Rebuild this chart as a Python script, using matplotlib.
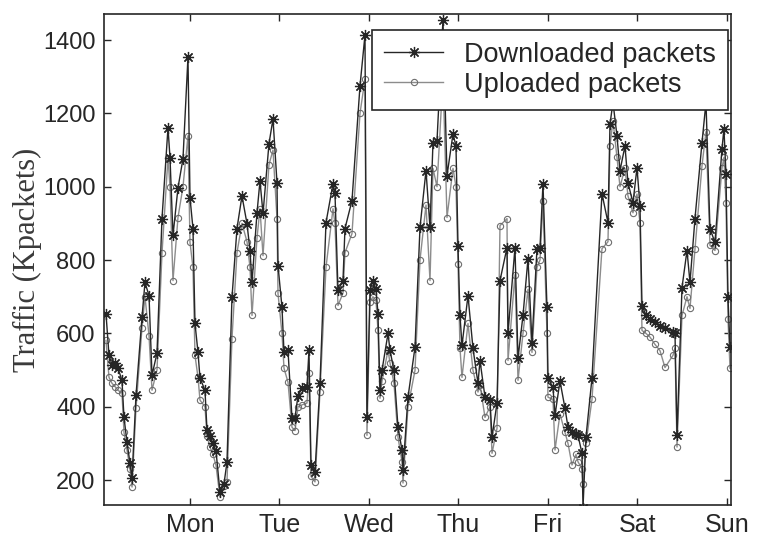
# Weekly packet traffic: downloaded vs uploaded packets (hourly samples)
import matplotlib
matplotlib.use('Agg')
import matplotlib.pyplot as plt

# time in hours from Sunday 00:00
hours = [1.47, 2.28, 3.08, 3.89, 4.69, 5.76, 6.30, 7.11, 7.91, 8.45,
         9.52, 11.13, 11.93, 13.01, 13.81, 15.15, 16.49, 18.10, 18.64, 19.44,
         20.78, 22.12, 23.46, 24.00, 24.80, 25.34, 26.15, 26.68, 28.02, 28.56,
         29.36, 30.17, 30.97, 32.04, 33.12, 33.92, 35.26, 36.60, 37.94, 39.29,
         40.09, 40.63, 41.97, 42.77, 43.58, 45.18, 46.26, 47.33, 47.60, 48.67,
         49.21, 50.28, 51.35, 52.16, 52.96, 54.03, 55.37, 55.91, 56.45, 57.52,
         58.86, 60.47, 62.35, 62.88, 63.69, 65.03, 65.56, 67.44, 69.59, 70.93,
         71.46, 72.27, 73.07, 73.88, 74.41, 74.95, 75.49, 77.10, 77.63, 78.70,
         79.78, 80.85, 81.12, 82.46, 84.34, 85.68, 87.29, 88.36, 89.16, 90.24,
         91.84, 92.92, 94.53, 95.33, 95.87, 96.40, 96.94, 98.55, 99.89, 101.23,
         101.77, 103.11, 104.45, 104.99, 106.33, 107.13, 109.01, 109.28, 111.15, 111.96,
         113.30, 114.64, 115.71, 117.05, 117.86, 118.66, 119.73, 120.00, 121.34, 121.88,
         123.22, 124.56, 125.37, 126.44, 127.51, 128.05, 129.12, 129.39, 130.19, 131.80,
         134.48, 136.09, 136.63, 137.43, 138.50, 139.31, 140.65, 141.45, 142.79, 143.87,
         144.67, 145.21, 146.28, 147.35, 148.69, 150.03, 151.38, 153.52, 154.06, 154.60,
         155.94, 157.28, 158.08, 159.42, 161.30, 162.37, 163.44, 164.78, 166.66, 167.19,
         167.73, 168.27, 168.81]

downloaded = [654, 540, 515, 520, 505, 472, 371, 303, 246, 205,
              431, 644, 739, 703, 486, 546, 913, 1161, 1079, 867,
              997, 1076, 1354, 970, 886, 627, 548, 478, 445, 336,
              320, 300, 280, 167, 190, 249, 698, 886, 975, 899,
              826, 739, 929, 1016, 927, 1117, 1185, 1011, 785, 671,
              548, 554, 369, 370, 430, 450, 455, 554, 241, 222,
              464, 902, 1008, 983, 717, 744, 886, 962, 1275, 1414,
              371, 717, 744, 720, 654, 445, 499, 600, 554, 499,
              344, 282, 227, 426, 562, 889, 1044, 889, 1120, 1125,
              1455, 1030, 1144, 1111, 839, 649, 567, 703, 559, 464,
              526, 426, 418, 317, 410, 744, 834, 600, 834, 532,
              649, 804, 575, 831, 834, 1008, 671, 478, 453, 377,
              470, 396, 344, 330, 325, 322, 273, 124, 317, 478,
              981, 902, 1171, 1230, 1139, 1044, 1111, 1011, 956, 1052,
              948, 676, 650, 640, 630, 620, 616, 603, 600, 322,
              725, 826, 739, 913, 1120, 1230, 886, 848, 1103, 1158,
              1035, 698, 562]

uploaded = [581, 480, 464, 455, 445, 437, 330, 282, 230, 181,
            396, 616, 700, 594, 445, 500, 818, 1079, 1000, 744,
            916, 1000, 1139, 848, 780, 540, 480, 418, 400, 320,
            290, 270, 240, 154, 185, 195, 586, 820, 900, 850,
            780, 649, 860, 940, 812, 1060, 1100, 913, 709, 600,
            505, 467, 344, 335, 400, 405, 410, 491, 210, 195,
            440, 780, 940, 900, 676, 710, 820, 872, 1200, 1294,
            322, 685, 700, 690, 608, 423, 470, 554, 520, 464,
            317, 250, 192, 400, 499, 800, 950, 744, 1050, 1000,
            1300, 916, 1050, 1000, 790, 560, 480, 627, 499, 440,
            460, 371, 400, 273, 341, 894, 913, 526, 760, 472,
            600, 720, 548, 780, 800, 960, 600, 426, 420, 282,
            380, 330, 300, 241, 270, 250, 230, 190, 300, 420,
            831, 850, 1111, 1180, 1080, 1000, 1050, 975, 929, 980,
            900, 608, 600, 590, 570, 553, 507, 540, 560, 290,
            649, 700, 668, 830, 1057, 1150, 840, 826, 1050, 1080,
            956, 640, 505]

day_ticks = [24, 48, 72, 96, 120, 144, 168]
day_labels = ['Mon', 'Tue', 'Wed', 'Thu', 'Fri', 'Sat', 'Sun']
traffic_ticks = [200, 400, 600, 800, 1000, 1200, 1400]

ink = '#262626'

fig = plt.figure(figsize=(7.57, 5.51), dpi=100)
ax = fig.add_axes([104 / 757, 46 / 551, 627 / 757, 491 / 551])

ax.plot(hours, uploaded, color='#8c8c8c', lw=1.0, marker='o', ms=4.5,
        mfc='none', mec='#6e6e6e', mew=0.8, label='Uploaded packets', zorder=2)
ax.plot(hours, downloaded, color=ink, lw=1.0, marker=(8, 2, 0), ms=8,
        mec=ink, mew=0.9, label='Downloaded packets', zorder=3)

ax.set_xlim(0.94, 169.08)
ax.set_ylim(132, 1471)
ax.set_xticks(day_ticks)
ax.set_xticklabels(day_labels)
ax.set_yticks(traffic_ticks)

ax.tick_params(direction='in', top=True, right=True, length=5, width=1,
               colors=ink, labelsize=17, pad=6)
for lab in ax.get_xticklabels() + ax.get_yticklabels():
    lab.set_fontfamily('Liberation Sans')
ax.tick_params(axis='x', labelsize=18)
for sp in ax.spines.values():
    sp.set_color(ink)
    sp.set_linewidth(1.2)

ax.set_ylabel('Traffic (Kpackets)', family='Liberation Serif', fontsize=22,
              color='#3a3a3a', labelpad=1)

handles, labels = ax.get_legend_handles_labels()
leg = ax.legend(handles[::-1], labels[::-1], loc='upper right',
                bbox_to_anchor=(0.995, 0.968), prop={'family': 'Liberation Sans', 'size': 19.5},
                frameon=True, fancybox=False, framealpha=1, edgecolor=ink,
                handlelength=2.2, handletextpad=0.75, borderpad=0.45,
                labelspacing=0.15, borderaxespad=0)
leg.get_frame().set_linewidth(1.2)
for t in leg.get_texts():
    t.set_color(ink)

fig.savefig('out.png', dpi=100, facecolor='white')
